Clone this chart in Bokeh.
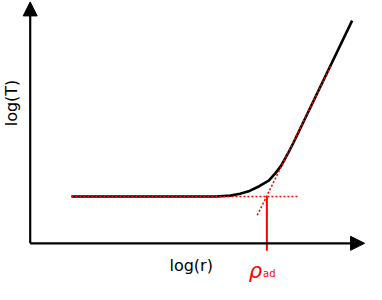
from bokeh.plotting import figure
from bokeh.models import Arrow, NormalHead
from bokeh.core.properties import value
from bokeh.embed import file_html
from bokeh.resources import INLINE
import math

# Curve (log r, log T), arbitrary units
curve_logr = [4.3, 12.0, 16.9, 19.4, 20.9, 21.9, 22.9, 23.9, 24.9, 25.6, 26.2, 26.9, 27.5, 33.6]
curve_logT = [5.0, 5.0, 5.0, 5.0, 5.1, 5.3, 5.6, 6.1, 6.7, 7.5, 8.3, 9.6, 10.8, 23.8]

# Asymptotes
flat_x = [4.3, 28.0]
flat_y = [5.0, 5.0]
steep_x = [23.7, 31.4]
steep_y = [3.0, 19.0]

# rho_ad marker
rho_ad_x = 24.7
rho_ad_y = [5.0, -0.8]

# Axes extents
x_axis_end = 34.9
y_axis_end = 25.8

p = figure(width=366, height=284, x_range=(-3.1, 35.1), y_range=(-4.4, 25.95),
           output_backend="svg", toolbar_location=None, min_border=0)
p.axis.visible = False
p.grid.visible = False
p.outline_line_color = None
p.background_fill_color = "white"

# axes with arrowheads
p.add_layout(Arrow(end=NormalHead(size=14, fill_color="black", line_color="black", line_width=1),
                   x_start=0, y_start=0, x_end=x_axis_end, y_end=0,
                   line_color="black", line_width=2.2))
p.add_layout(Arrow(end=NormalHead(size=14, fill_color="black", line_color="black", line_width=1),
                   x_start=0, y_start=0, x_end=0, y_end=y_axis_end,
                   line_color="black", line_width=2.2))

# red vertical marker
p.line([rho_ad_x, rho_ad_x], rho_ad_y, line_color="red", line_width=2)

# curve
p.line(curve_logr, curve_logT, line_color="black", line_width=2.6, line_join="round")

# asymptotes (dotted red)
p.line(flat_x, flat_y, line_color="red", line_width=1.6, line_dash="2 2")
p.line(steep_x, steep_y, line_color="red", line_width=1.6, line_dash="2 2")

# labels
p.text(x=[16.8], y=[-2.4], text=["log(r)"], text_font=value("DejaVu Sans"),
       text_font_size="16px", text_align="center", text_baseline="alphabetic",
       text_color="black")
p.text(x=[-2.0], y=[15.0], text=["log(T)"], text_font=value("DejaVu Sans"),
       text_font_size="16px", text_align="center", text_baseline="middle",
       angle=math.pi / 2, text_color="black")
p.text(x=[23.5], y=[-3.0], text=["ρ"], text_font=value("DejaVu Sans"),
       text_font_size="21px", text_font_style="italic", text_align="center",
       text_baseline="alphabetic", text_color="red")
p.text(x=[24.3], y=[-3.2], text=["ad"], text_font=value("DejaVu Sans"),
       text_font_size="10px", text_align="left", text_baseline="alphabetic",
       text_color="red")

open("out.html", "w").write(file_html(p, INLINE))
